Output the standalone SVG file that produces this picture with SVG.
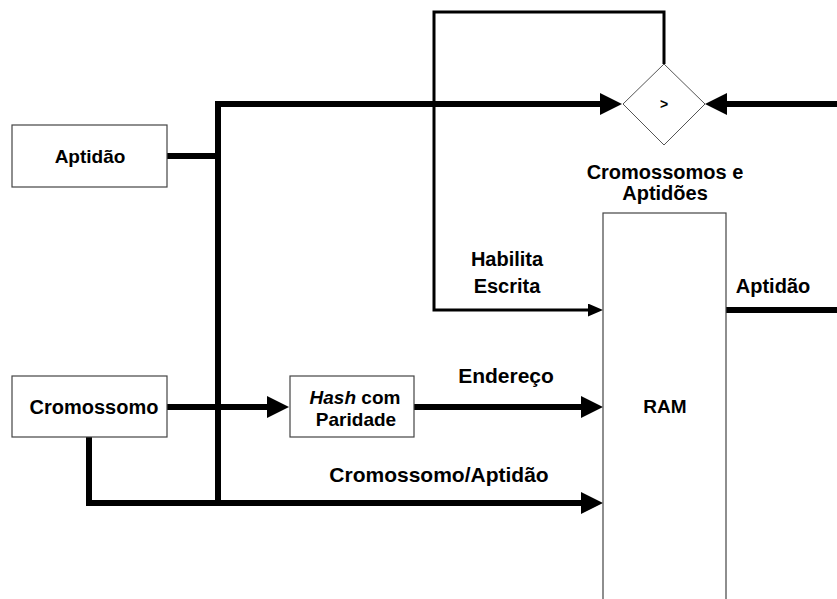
<svg xmlns="http://www.w3.org/2000/svg" width="837" height="599" viewBox="0 0 837 599">
<style>
text{font-family:"Liberation Sans",Arial,sans-serif;font-weight:bold;fill:#000;text-anchor:middle}
.box{fill:#fff;stroke:#444;stroke-width:1.2}
.thick{fill:none;stroke:#000;stroke-width:6;stroke-linejoin:miter}
.thin{fill:none;stroke:#000;stroke-width:3;stroke-linejoin:miter}
</style>
<defs>
<marker id="ah" markerUnits="userSpaceOnUse" markerWidth="22" markerHeight="22" refX="6" refY="11" orient="auto">
<path d="M0,0 L22,11 L0,22 z" fill="#000"/>
</marker>
<marker id="ahs" markerUnits="userSpaceOnUse" markerWidth="15" markerHeight="13" refX="5" refY="6.5" orient="auto">
<path d="M0,0 L15,6.5 L0,13 z" fill="#000"/>
</marker>
</defs>
<rect width="837" height="599" fill="#fff"/>
<g id="connectors">
<path class="thick" d="M167,156 H218"/>
<path class="thick" d="M218,503 V104 H606" marker-end="url(#ah)"/>
<path class="thick" d="M837,104 H721" marker-end="url(#ah)"/>
<path class="thin" d="M664,64 V12 H434 V310 H593" marker-end="url(#ahs)"/>
<path class="thick" d="M167,407 H273" marker-end="url(#ah)"/>
<path class="thick" d="M414,407 H587" marker-end="url(#ah)"/>
<path class="thick" d="M89,437 V503 H587" marker-end="url(#ah)"/>
<path class="thick" d="M726,310 H837"/>
<text x="507" y="266" font-size="20">Habilita</text>
<text x="507" y="293" font-size="20">Escrita</text>
<text x="773" y="293" font-size="20">Aptidão</text>
<text x="506" y="383" font-size="21">Endereço</text>
<text x="439" y="482" font-size="21">Cromossomo/Aptidão</text>
</g>
<g id="aptidao">
<rect class="box" x="12" y="125" width="155" height="62"/>
<text x="90" y="163" font-size="19">Aptidão</text>
</g>
<g id="cromossomo">
<rect class="box" x="12" y="376" width="155" height="61"/>
<text x="94" y="414" font-size="20">Cromossomo</text>
</g>
<g id="hash">
<rect class="box" x="290" y="376" width="124" height="61"/>
<text x="355" y="404" font-size="19"><tspan font-style="italic">Hash</tspan> com</text>
<text x="356" y="426" font-size="19">Paridade</text>
</g>
<g id="comparador">
<polygon points="664,64 705,104 664,145 623,104" fill="#fff" stroke="#555" stroke-width="1"/>
<text x="664" y="109" font-size="14">&gt;</text>
<text x="665" y="179" font-size="20">Cromossomos e</text>
<text x="665" y="200" font-size="20">Aptidões</text>
</g>
<g id="ram">
<rect class="box" x="603" y="213" width="123" height="420"/>
<text x="665" y="413" font-size="19">RAM</text>
</g>
</svg>
